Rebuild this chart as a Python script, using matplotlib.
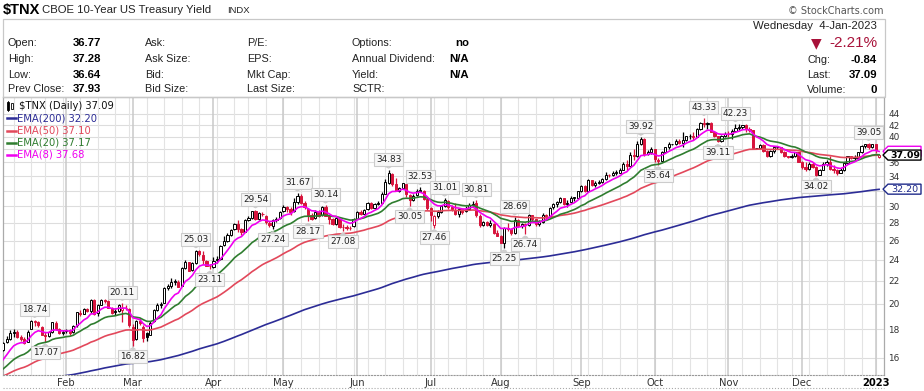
import numpy as np
import pandas as pd
import matplotlib
matplotlib.use('Agg')
import matplotlib.pyplot as plt
from matplotlib.patches import Rectangle, Polygon
from matplotlib.lines import Line2D
from matplotlib.ticker import FixedLocator, FixedFormatter, NullLocator

plt.rcParams['font.family'] = ['DejaVu Sans']

W, H = 924, 391

# trading days shown (Jan 3 2022 .. Jan 4 2023)
holidays = ['2022-01-17', '2022-02-21', '2022-04-15', '2022-05-30', '2022-06-20',
            '2022-07-04', '2022-09-05', '2022-11-24', '2022-12-26', '2023-01-02']

# daily candles [open, high, low, close] (yield x10)
ohlc_jan = [[15.20, 16.32, 15.18, 16.30], [16.35, 16.87, 16.30, 16.48], [16.50, 17.10, 16.45, 17.04],
            [17.10, 17.50, 17.00, 17.26], [17.30, 17.97, 17.20, 17.69], [17.75, 18.05, 17.43, 17.80],
            [17.82, 17.95, 17.35, 17.43], [17.45, 17.60, 17.12, 17.29], [17.28, 17.40, 16.95, 17.03],
            [17.10, 17.92, 17.05, 17.81], [18.05, 18.70, 18.00, 18.66], [18.55, 18.74, 18.25, 18.62],
            [18.55, 18.60, 18.20, 18.33], [18.20, 18.25, 17.55, 17.61], [17.55, 17.80, 17.07, 17.48],
            [17.50, 17.85, 17.40, 17.77], [17.80, 18.55, 17.70, 18.55], [18.50, 18.60, 17.95, 18.04],
            [18.00, 18.10, 17.65, 17.71], [17.75, 17.95, 17.60, 17.79]]
ohlc_feb = [[17.85, 18.05, 17.70, 17.97], [17.95, 18.00, 17.60, 17.74], [17.80, 18.35, 17.70, 18.27],
            [18.30, 19.35, 18.20, 19.30], [19.25, 19.50, 19.05, 19.18], [19.20, 19.70, 19.15, 19.60],
            [19.55, 19.65, 19.30, 19.42], [19.40, 20.45, 19.25, 20.30], [20.30, 20.40, 19.10, 19.20],
            [19.25, 20.00, 19.00, 19.93], [19.95, 20.45, 19.90, 20.35], [20.35, 20.45, 20.05, 20.25],
            [20.25, 20.30, 19.65, 19.70], [19.65, 19.75, 19.20, 19.28], [19.30, 19.70, 19.10, 19.40],
            [19.40, 20.00, 19.35, 19.90], [19.50, 20.11, 18.55, 19.70], [19.70, 19.95, 19.50, 19.66],
            [19.60, 19.65, 18.20, 18.30]]
ohlc_mar = [[18.20, 18.40, 16.82, 17.20], [17.30, 18.70, 17.25, 18.60], [18.60, 18.85, 18.30, 18.45],
            [18.20, 18.30, 17.05, 17.35], [17.70, 17.80, 17.15, 17.45], [17.60, 18.60, 17.55, 18.50],
            [18.60, 19.60, 18.55, 19.50], [19.50, 20.10, 19.40, 19.95], [19.95, 20.15, 19.70, 20.00],
            [20.10, 21.45, 20.05, 21.40], [21.40, 21.70, 21.20, 21.50], [21.50, 22.30, 21.35, 21.90],
            [21.90, 22.20, 21.60, 21.95], [21.90, 22.10, 21.45, 21.45], [21.50, 23.30, 21.50, 23.20],
            [23.20, 24.00, 23.10, 23.80], [23.75, 23.80, 22.90, 22.95], [23.00, 23.80, 22.95, 23.70],
            [23.70, 25.03, 23.60, 24.90], [24.90, 25.00, 24.35, 24.60], [24.50, 24.95, 23.60, 23.95],
            [23.90, 24.00, 23.40, 23.45], [23.45, 23.60, 23.11, 23.40]]
ohlc_apr = [[23.30, 24.30, 23.20, 23.90], [24.00, 24.40, 23.70, 24.10], [24.10, 25.50, 24.00, 25.45],
            [25.50, 26.50, 25.40, 26.00], [26.00, 26.80, 25.90, 26.60], [26.60, 27.30, 26.50, 27.20],
            [27.30, 28.00, 27.20, 27.90], [27.90, 28.30, 27.00, 27.25], [27.25, 27.40, 26.60, 27.00],
            [27.00, 28.50, 26.95, 28.30], [28.30, 28.80, 28.20, 28.55], [28.60, 29.45, 28.50, 29.40],
            [29.40, 29.54, 28.30, 28.40], [28.40, 29.30, 28.30, 29.15], [29.10, 29.30, 28.80, 29.00],
            [28.80, 28.90, 27.90, 28.10], [28.00, 28.20, 27.50, 27.70], [27.60, 28.40, 27.24, 28.30],
            [28.30, 28.70, 28.10, 28.50], [28.60, 29.40, 28.50, 29.30]]
ohlc_may = [[29.40, 30.10, 29.30, 29.95], [29.95, 30.05, 29.30, 29.60], [29.65, 29.90, 28.90, 29.30],
            [29.40, 31.10, 29.30, 30.50], [30.50, 31.67, 30.30, 31.30], [31.30, 31.50, 30.30, 30.40],
            [30.40, 30.70, 29.60, 29.95], [29.60, 29.80, 28.17, 28.90], [28.90, 29.20, 28.30, 28.50],
            [28.60, 29.50, 28.50, 29.30], [29.30, 29.50, 28.70, 28.80], [28.90, 30.00, 28.80, 29.85],
            [29.90, 30.14, 28.80, 28.85], [28.80, 28.90, 27.90, 28.40], [28.40, 28.60, 27.70, 27.85],
            [27.90, 28.70, 27.80, 28.60], [28.50, 28.55, 27.40, 27.55], [27.50, 27.90, 27.08, 27.50],
            [27.50, 27.70, 27.20, 27.45], [27.45, 27.60, 27.20, 27.40], [27.60, 28.60, 27.50, 28.45]]
ohlc_jun = [[28.50, 29.40, 28.40, 29.30], [29.30, 29.50, 28.90, 29.10], [29.10, 29.70, 29.00, 29.50],
            [29.60, 30.50, 29.50, 30.40], [30.40, 30.50, 29.60, 29.80], [29.80, 30.40, 29.70, 30.30],
            [30.30, 30.60, 30.10, 30.40], [30.40, 31.80, 30.30, 31.60], [31.60, 33.60, 31.50, 33.20],
            [33.00, 34.83, 32.90, 34.40], [34.30, 34.50, 32.60, 32.90], [32.90, 33.70, 31.90, 31.95],
            [32.00, 32.50, 31.80, 32.30], [32.30, 33.00, 32.20, 33.00], [32.90, 32.90, 31.20, 31.50],
            [31.40, 31.50, 30.05, 30.80], [30.80, 31.60, 30.70, 31.30], [31.40, 32.20, 31.30, 32.00],
            [32.00, 32.53, 31.80, 32.00], [32.00, 32.10, 30.80, 30.90], [30.90, 31.00, 29.50, 29.80]]
ohlc_jul = [[29.80, 29.90, 28.20, 28.90], [27.80, 28.90, 27.46, 28.80], [28.80, 29.50, 28.60, 29.30],
            [29.30, 30.20, 29.20, 30.00], [30.00, 31.01, 29.90, 30.80], [30.70, 30.80, 29.70, 29.90],
            [29.90, 30.10, 29.40, 29.60], [29.50, 30.40, 28.90, 29.10], [29.10, 29.80, 28.70, 29.60],
            [29.60, 29.70, 29.10, 29.30], [29.40, 30.00, 29.30, 29.60], [29.70, 30.40, 29.60, 30.20],
            [30.20, 30.60, 30.00, 30.30], [30.40, 30.81, 28.70, 28.90], [28.80, 29.10, 27.50, 27.80],
            [27.80, 28.20, 27.60, 28.10], [28.10, 28.20, 27.60, 27.80], [27.80, 28.30, 27.50, 28.00],
            [27.90, 28.00, 26.70, 26.80], [26.80, 27.20, 26.50, 26.50]]
ohlc_aug = [[26.50, 26.60, 25.70, 25.80], [25.80, 27.50, 25.25, 27.40], [27.40, 28.00, 27.10, 27.30],
            [27.30, 27.40, 26.60, 26.80], [26.80, 28.69, 26.70, 28.30], [28.30, 28.50, 27.50, 27.60],
            [27.60, 28.00, 27.40, 27.90], [27.90, 28.00, 26.74, 27.80], [27.80, 29.00, 27.60, 28.90],
            [28.90, 28.95, 28.20, 28.50], [28.40, 28.50, 27.60, 27.90], [27.90, 28.30, 27.60, 28.10],
            [28.10, 29.20, 28.00, 28.95], [28.90, 29.00, 28.50, 28.80], [28.80, 29.90, 28.70, 29.80],
            [29.90, 30.40, 29.70, 30.30], [30.30, 30.70, 29.90, 30.50], [30.50, 31.20, 30.40, 31.10],
            [31.10, 31.10, 30.20, 30.30], [30.30, 30.80, 29.90, 30.40], [30.50, 31.30, 30.40, 31.10],
            [31.10, 31.20, 30.70, 31.10], [31.10, 32.00, 31.00, 31.90]]
ohlc_sep = [[31.90, 32.80, 31.80, 32.60], [32.60, 32.70, 31.80, 31.90], [32.00, 33.60, 31.90, 33.40],
            [33.40, 33.50, 32.60, 32.70], [32.70, 33.30, 32.50, 33.10], [33.10, 33.40, 32.90, 33.20],
            [33.20, 33.70, 33.00, 33.60], [33.60, 34.60, 33.50, 34.20], [34.20, 34.30, 33.90, 34.10],
            [34.10, 34.70, 34.00, 34.50], [34.50, 34.80, 34.20, 34.50], [34.50, 35.20, 34.40, 34.90],
            [34.90, 36.00, 34.80, 35.70], [35.70, 36.40, 34.90, 35.40], [35.40, 37.50, 35.30, 37.10],
            [37.10, 38.10, 36.40, 36.90], [36.90, 39.30, 36.80, 38.80], [38.80, 39.92, 38.60, 39.60],
            [39.60, 39.80, 37.00, 37.30], [37.30, 37.90, 37.10, 37.50], [37.50, 38.30, 37.30, 38.00]]
ohlc_oct = [[38.00, 38.10, 36.00, 36.50], [36.40, 36.60, 35.64, 36.20], [36.20, 37.80, 36.10, 37.50],
            [37.50, 38.40, 37.40, 38.30], [38.30, 39.10, 38.10, 38.80], [38.80, 38.85, 38.75, 38.85],
            [38.80, 39.70, 38.70, 39.40], [39.40, 39.60, 38.80, 39.00], [39.00, 40.80, 38.30, 39.50],
            [39.50, 40.20, 39.40, 40.10], [40.10, 40.50, 39.70, 40.10], [40.10, 40.90, 39.50, 40.00],
            [40.00, 41.50, 39.90, 41.30], [41.30, 42.50, 41.20, 42.30], [42.30, 43.33, 41.70, 42.20],
            [42.20, 42.60, 41.30, 42.40], [42.40, 42.50, 40.80, 40.90], [40.90, 41.00, 39.90, 40.10],
            [40.10, 40.20, 39.11, 39.30], [39.30, 40.30, 39.20, 40.10], [40.10, 40.90, 40.00, 40.50]]
ohlc_nov = [[40.50, 41.00, 39.90, 40.40], [40.40, 41.30, 39.70, 41.00], [41.00, 42.23, 41.00, 41.50],
            [41.50, 42.20, 41.20, 41.60], [41.60, 42.10, 41.40, 42.10], [42.10, 42.20, 40.90, 41.30],
            [41.30, 41.60, 40.90, 41.10], [41.10, 41.20, 38.10, 38.20], [38.20, 38.25, 38.15, 38.20],
            [38.20, 38.90, 38.00, 38.70], [38.70, 38.80, 37.60, 37.80], [37.80, 37.90, 36.80, 36.90],
            [36.90, 37.90, 36.80, 37.70], [37.70, 38.50, 37.40, 38.30], [38.30, 38.50, 38.00, 38.30],
            [38.30, 38.40, 37.40, 37.60], [37.60, 37.80, 36.80, 36.90], [36.90, 37.00, 36.70, 36.80],
            [36.80, 37.20, 36.60, 36.90], [36.90, 37.60, 36.80, 37.50], [37.50, 37.60, 36.00, 36.10]]
ohlc_dec = [[36.10, 36.20, 35.00, 35.30], [35.30, 36.00, 34.70, 35.00], [35.00, 36.00, 34.90, 35.80],
            [35.80, 36.00, 35.10, 35.30], [35.30, 35.40, 34.02, 34.20], [34.20, 35.00, 34.10, 34.90],
            [34.90, 36.00, 34.80, 35.80], [35.80, 36.30, 35.50, 36.10], [36.10, 37.00, 34.80, 35.00],
            [35.00, 35.60, 34.50, 34.80], [34.80, 35.00, 34.20, 34.50], [34.50, 35.20, 34.40, 34.80],
            [34.80, 36.00, 34.70, 35.90], [35.90, 37.00, 35.80, 36.90], [36.90, 37.00, 36.50, 36.70],
            [36.70, 37.10, 36.30, 36.70], [36.70, 37.60, 36.60, 37.50], [37.50, 38.60, 37.40, 38.50],
            [38.50, 38.90, 38.20, 38.80], [38.80, 39.05, 38.10, 38.30], [38.30, 38.90, 38.20, 38.80]]
ohlc_jan23 = [[38.80, 38.90, 37.40, 37.93], [36.77, 37.28, 36.64, 37.09]]

prev_close_2021 = 15.12
# EMA values on the last day of 2021 (start of the overlays)
ema_seeds = {200: 14.2, 50: 14.6, 20: 14.8, 8: 15.0}

# labelled swing points
swing_dates = ['2022-01-19', '2022-01-24', '2022-02-24', '2022-03-01', '2022-03-25', '2022-03-31',
               '2022-04-20', '2022-04-27', '2022-05-06', '2022-05-11', '2022-05-18', '2022-05-25',
               '2022-06-14', '2022-06-23', '2022-06-28', '2022-07-05', '2022-07-08', '2022-07-21',
               '2022-08-02', '2022-08-05', '2022-08-10', '2022-09-27', '2022-10-04', '2022-10-21',
               '2022-10-27', '2022-11-03', '2022-12-07', '2022-12-29']
swing_vals = [18.74, 17.07, 20.11, 16.82, 25.03, 23.11, 29.54, 27.24, 31.67, 28.17, 30.14, 27.08,
              34.83, 30.05, 32.53, 27.46, 31.01, 30.81, 25.25, 28.69, 26.74, 39.92, 35.64, 43.33,
              39.11, 42.23, 34.02, 39.05]
swing_side = ['H', 'L', 'H', 'L', 'H', 'L', 'H', 'L', 'H', 'L', 'H', 'L',
              'H', 'L', 'H', 'L', 'H', 'H', 'L', 'H', 'L', 'H', 'L', 'H',
              'L', 'H', 'L', 'H']

yticks = [16, 18, 20, 22, 24, 26, 28, 30, 32, 34, 36, 38, 40, 42, 44]
ytick_labels = ['16', '18', '20', '22', '24', '26', '28', '30', '', '34', '36', '', '40', '42', '44']
month_names = ['Feb', 'Mar', 'Apr', 'May', 'Jun', 'Jul', 'Aug', 'Sep', 'Oct', 'Nov', 'Dec', '2023']

red = '#d7143c'
ema_colors = {200: '#2c2c96', 50: '#e2485b', 20: '#2f7d2f', 8: '#f000f0'}
ema_last = {200: '32.20', 50: '37.10', 20: '37.17', 8: '37.68'}

# ---------------------------------------------------------------
dates = pd.bdate_range('2022-01-03', '2023-01-04')
dates = dates[~dates.isin(pd.to_datetime(holidays))]
ohlc = np.array(ohlc_jan + ohlc_feb + ohlc_mar + ohlc_apr + ohlc_may + ohlc_jun + ohlc_jul +
                ohlc_aug + ohlc_sep + ohlc_oct + ohlc_nov + ohlc_dec + ohlc_jan23)
assert len(ohlc) == len(dates), (len(ohlc), len(dates))
opens, highs, lows, closes = ohlc.T
x = np.arange(len(closes))
prev = np.r_[prev_close_2021, closes[:-1]]

close_s = pd.Series(closes)
def ema(span):
    s = pd.concat([pd.Series([ema_seeds[span]]), close_s], ignore_index=True)
    return s.ewm(span=span, adjust=False).mean().iloc[1:].to_numpy()

month_idx = [i for i in range(1, len(dates)) if dates[i].month != dates[i - 1].month]
week_idx = [i for i in range(1, len(dates)) if dates[i].weekday() < dates[i - 1].weekday()
            or (dates[i] - dates[i - 1]).days > 3]

fig = plt.figure(figsize=(W / 100, H / 100), dpi=100)
def fx(px):
    return px / W
def fy(py):
    return 1 - py / H

ax_left, ax_right, ax_top, ax_bot = 3, 884, 97, 375
ax = fig.add_axes([fx(ax_left), fy(ax_bot), (ax_right - ax_left) / W, (ax_bot - ax_top) / H])
ax.set_yscale('log')
ax.set_ylim(14.89, 47.2)
ax.set_xlim(1.94, 253.4)

for t in yticks:
    ax.axhline(t, color='#dddddd', lw=0.8, zorder=0)
for i in week_idx:
    ax.axvline(i, color='#e3e3e3', lw=0.8, zorder=0)
for i in month_idx:
    ax.axvline(i, color='#c9c9c9', lw=1.1, zorder=0)

ax.yaxis.set_major_locator(FixedLocator(yticks))
ax.yaxis.set_major_formatter(FixedFormatter(ytick_labels))
ax.yaxis.set_minor_locator(NullLocator())
ax.yaxis.tick_right()
ax.tick_params(axis='y', length=0, pad=3, labelsize=6.4, labelcolor='#333333')
ax.set_xticks(month_idx)
ax.set_xticklabels(month_names)
ax.tick_params(axis='x', length=0, pad=2, labelsize=7.2, labelcolor='#333333')
for lbl in ax.get_xticklabels():
    if lbl.get_text() == '2023':
        lbl.set_fontweight('bold')
        lbl.set_color('black')
for s in ['left', 'right', 'top']:
    ax.spines[s].set_color('#aaaaaa')
    ax.spines[s].set_linewidth(0.9)
ax.spines['bottom'].set_color('#999999')
ax.spines['bottom'].set_linestyle(':')

# candles
cols = np.where(closes < prev, red, 'black')
hollow = closes >= opens
ax.vlines(x, lows, highs, colors=cols, lw=0.9, zorder=3)
body_bot = np.minimum(opens, closes)
body_h = np.maximum(np.abs(closes - opens), body_bot * 0.0015)
faces = ['white' if h else c for h, c in zip(hollow, cols)]
ax.bar(x, body_h, bottom=body_bot, width=0.62, color=faces, edgecolor=cols, linewidth=0.7, zorder=4)

# overlays
emas = {}
for span in [200, 50, 20, 8]:
    emas[span] = ema(span)
    ax.plot(x, emas[span], color=ema_colors[span], lw=1.2, zorder=5)

# swing labels
pos = {d: i for i, d in enumerate(dates.strftime('%Y-%m-%d'))}
for d, v, side in zip(swing_dates, swing_vals, swing_side):
    off = 7.5 if side == 'H' else -7.5
    ax.annotate(f'{v:.2f}', xy=(pos[d], v), xytext=(0, off), textcoords='offset points',
                ha='center', va='center', fontsize=6.4, color='#222222', zorder=8,
                bbox=dict(boxstyle='square,pad=0.22', fc='#f7f7f7', ec='#cccccc', lw=0.8),
                arrowprops=dict(arrowstyle='wedge,tail_width=0.55,shrink_factor=0.5',
                                fc='#f7f7f7', ec='#cccccc', lw=0.8, shrinkA=0, shrinkB=1.5))

# right-hand value boxes
def price_box(v, text, ec, tc, bold=False):
    py = H - ax.transData.transform((0, v))[1]
    pts = [(883, py), (888, py - 5), (921, py - 5), (921, py + 5), (888, py + 5)]
    fig.add_artist(Polygon([(fx(a), fy(b)) for a, b in pts], closed=True, fc='white', ec=ec,
                           lw=1.0, transform=fig.transFigure))
    if text:
        fig.text(fx(905), fy(py), text, ha='center', va='center', fontsize=6.8, color=tc,
                 fontweight='bold' if bold else 'normal')

# EMA(8) box sits behind the last-price box, only its top edge shows
price_box(37.68, '', ema_colors[8], ema_colors[8])
price_box(closes[-1], f'{closes[-1]:.2f}', 'black', 'black', bold=True)
price_box(32.20, '32.20', '#1f2a8a', '#1f2a8a')

# in-chart legend
fig.add_artist(Rectangle((fx(7), fy(110)), 2 / W, 8 / H, fc='black', ec='black', lw=0.6))
fig.add_artist(Rectangle((fx(11), fy(109)), 2 / W, 6 / H, fc='white', ec='black', lw=0.6))
fig.add_artist(Line2D([fx(8), fx(8)], [fy(101), fy(111)], color='black', lw=0.6))
fig.text(fx(19), fy(106), f'$TNX (Daily) {closes[-1]:.2f}', fontsize=7.2, color='#111111', va='center')
leg_y = {200: 118.3, 50: 130.5, 20: 142.6, 8: 154.7}
for span in [200, 50, 20, 8]:
    c = ema_colors[span]
    fig.add_artist(Line2D([fx(6.5), fx(15.5)], [fy(leg_y[span])] * 2, color=c, lw=1.8))
    fig.text(fx(17), fy(leg_y[span]), f'EMA({span}) {ema_last[span]}', fontsize=7.2, color=c, va='center')

# header
hf = 'Liberation Sans'
fig.text(fx(3), fy(10), '$TNX', fontsize=10.5, fontweight='bold', family=hf, va='center')
fig.text(fx(42), fy(10), 'CBOE 10-Year US Treasury Yield', fontsize=8.2, family=hf, va='center', color='#222222')
fig.text(fx(227), fy(10.5), 'INDX', fontsize=6.8, family=hf, va='center', color='#222222')
fig.text(fx(884), fy(11), '\u00a9 StockCharts.com', fontsize=7, ha='right', va='center', color='#555555')
fig.add_artist(Rectangle((fx(3), fy(97)), 882 / W, 78 / H, fill=False, ec='#c8c8c8', lw=0.9))

row_y = [43.5, 59.5, 74.5, 89]
cols_txt = [
    (8, ['Open:', 'High:', 'Low:', 'Prev Close:']),
    (145, ['Ask:', 'Ask Size:', 'Bid:', 'Bid Size:']),
    (247, ['P/E:', 'EPS:', 'Mkt Cap:', 'Last Size:']),
    (352, ['Options:', 'Annual Dividend:', 'Yield:', 'SCTR:']),
]
for cx, labels in cols_txt:
    for ry, t in zip(row_y, labels):
        fig.text(fx(cx), fy(ry), t, fontsize=7.8, family=hf, va='center', color='#222222')
for ry, t in zip(row_y, ['36.77', '37.28', '36.64', '37.93']):
    fig.text(fx(101), fy(ry), t, fontsize=8.2, family=hf, fontweight='bold', va='center', ha='right')
for ry, t in zip(row_y, ['no', 'N/A', 'N/A', '']):
    fig.text(fx(469), fy(ry), t, fontsize=8.2, family=hf, fontweight='bold', va='center', ha='right')

fig.text(fx(877), fy(26), 'Wednesday  4-Jan-2023', fontsize=8.2, family=hf, ha='right', va='center', color='#222222')
fig.text(fx(877), fy(43), '-2.21%', fontsize=11, family=hf, ha='right', va='center', color='#a8123a')
fig.text(fx(816), fy(43), '\u25bc', fontsize=10, ha='center', va='center', color='#a8123a')
for ry, lab, val in [(60, 'Chg:', '-0.84'), (75, 'Last:', '37.09'), (90, 'Volume:', '0')]:
    fig.text(fx(807), fy(ry), lab, fontsize=7.8, family=hf, va='center', color='#222222')
    fig.text(fx(877), fy(ry), val, fontsize=8.2, family=hf, fontweight='bold', ha='right', va='center')

fig.add_artist(Line2D([fx(3), fx(884)], [fy(388)] * 2, color='#aaaaaa', lw=0.8, ls=':'))

fig.savefig('out.png', dpi=100)
